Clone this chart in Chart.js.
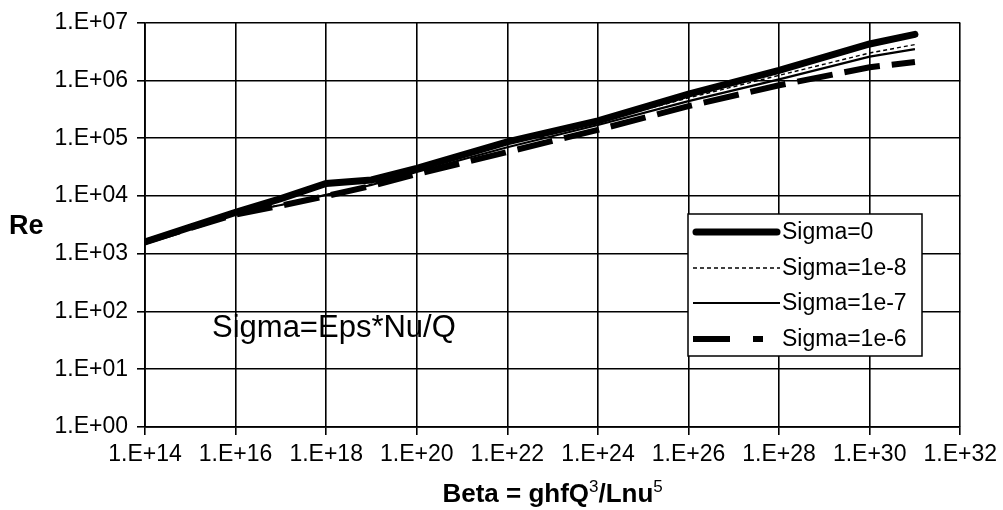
<!DOCTYPE html>
<html><head><meta charset="utf-8">
<script src="https://cdn.jsdelivr.net/npm/chart.js@4"></script>
<style>html,body{margin:0;padding:0;background:#fff;}#wrap{width:1003px;height:510px;position:relative;}</style>
</head><body><div id="wrap"><canvas id="c" width="1003" height="510"></canvas></div>
<script>
// ---- data ----
const betaValues   = [1e14, 1e15, 1e16, 1e17, 1e18, 1e19, 1e20, 1e22, 1e24, 1e26, 1e28, 1e30, 1e31];
const reSigma0     = [1.6e3, 2.9e3, 5.2e3, 9.0e3, 1.65e4, 1.9e4, 3.0e4, 8.7e4, 2.0e5, 5.8e5, 1.5e6, 4.3e6, 6.3e6];
const reSigma1e8   = [1.6e3, 2.8e3, 4.9e3, 7.0e3, 1.05e4, 1.6e4, 2.8e4, 8.0e4, 1.9e5, 5.0e5, 1.23e6, 3.0e6, 4.2e6];
const reSigma1e7   = [1.6e3, 2.8e3, 4.9e3, 7.0e3, 1.05e4, 1.55e4, 2.6e4, 7.0e4, 1.7e5, 4.4e5, 1.05e6, 2.6e6, 3.5e6];
const reSigma1e6   = [1.6e3, 2.8e3, 4.8e3, 6.8e3, 1.0e4, 1.5e4, 2.4e4, 5.8e4, 1.4e5, 3.6e5, 8.3e5, 1.7e6, 2.1e6];
const seriesNames  = ['Sigma=0', 'Sigma=1e-8', 'Sigma=1e-7', 'Sigma=1e-6'];
const xTickValues  = [1e14, 1e16, 1e18, 1e20, 1e22, 1e24, 1e26, 1e28, 1e30, 1e32];
const yTickValues  = [1e0, 1e1, 1e2, 1e3, 1e4, 1e5, 1e6, 1e7];
const yAxisTitle   = 'Re';
const noteText     = 'Sigma=Eps*Nu/Q';

const FONT = '"Liberation Sans", Arial, sans-serif';
const fmt = v => { const e = Math.round(Math.log10(v)); return '1.E' + (e < 0 ? '-' : '+') + String(Math.abs(e)).padStart(2, '0'); };
const pts = arr => betaValues.map((b, i) => ({x: b, y: arr[i]}));

const styles = [
  {borderWidth: 7, borderDash: [], legendDash: []},
  {borderWidth: 1.4, borderDash: [4, 3], legendDash: [4, 3]},
  {borderWidth: 2.2, borderDash: [], legendDash: []},
  {borderWidth: 6, borderDash: [36, 12], legendDash: [37, 23, 10, 100]}
];
const seriesData = [reSigma0, reSigma1e8, reSigma1e7, reSigma1e6];

const datasets = seriesNames.map((n, i) => ({
  label: n, data: pts(seriesData[i]), borderColor: '#000', backgroundColor: '#000',
  borderWidth: styles[i].borderWidth, borderDash: styles[i].borderDash,
  borderCapStyle: i === 0 ? 'round' : 'butt', pointRadius: 0, tension: 0, fill: false
}));

const extras = {
  id: 'extras',
  afterDraw(chart) {
    const ctx = chart.ctx;
    ctx.save();
    ctx.fillStyle = '#000'; ctx.strokeStyle = '#000';
    // y axis title
    ctx.font = 'bold 27px ' + FONT; ctx.textAlign = 'left'; ctx.textBaseline = 'alphabetic';
    ctx.fillText(yAxisTitle, 9, 234);
    // note
    ctx.font = '31px ' + FONT;
    ctx.fillText(noteText, 212, 337);
    // x axis title with superscripts
    const parts = [['Beta = ghfQ', false], ['3', true], ['/Lnu', false], ['5', true]];
    const big = 'bold 26px ' + FONT, small = '17px ' + FONT;
    let w = 0;
    parts.forEach(p => { ctx.font = p[1] ? small : big; w += ctx.measureText(p[0]).width; });
    let x = (chart.chartArea.left + chart.chartArea.right) / 2 - w / 2;
    const base = 502;
    parts.forEach(p => { ctx.font = p[1] ? small : big; ctx.fillText(p[0], x, p[1] ? base - 10 : base); x += ctx.measureText(p[0]).width; });
    // legend
    const lx = 688, ly = 214, lw = 234, lh = 142;
    ctx.fillStyle = '#fff'; ctx.fillRect(lx, ly, lw, lh);
    ctx.lineWidth = 1.5; ctx.strokeRect(lx, ly, lw, lh);
    const rows = [232, 268, 303, 339];
    chart.data.datasets.forEach((ds, i) => {
      ctx.save();
      ctx.beginPath();
      ctx.rect(lx + 2, ly + 2, 780 - lx, lh - 4); ctx.clip();
      ctx.beginPath();
      ctx.lineWidth = ds.borderWidth; ctx.setLineDash(styles[i].legendDash);
      ctx.lineCap = ds.borderCapStyle;
      ctx.moveTo(i === 0 ? 696 : 693, rows[i]); ctx.lineTo(i === 0 ? 777 : 780, rows[i]); ctx.stroke();
      ctx.restore();
      ctx.fillStyle = '#000'; ctx.font = '23px ' + FONT; ctx.textBaseline = 'middle';
      ctx.fillText(ds.label, 782, rows[i] + 1);
    });
    ctx.restore();
  }
};

new Chart(document.getElementById('c'), {
  type: 'line',
  data: {datasets},
  options: {
    responsive: false, animation: false,
    layout: {padding: {top: 20, right: 40, left: 0, bottom: 0}},
    plugins: {legend: {display: false}, tooltip: {enabled: false}},
    scales: {
      x: {
        type: 'logarithmic', position: 'bottom', min: 1e14, max: 1e32,
        afterBuildTicks: s => { s.ticks = xTickValues.map(v => ({value: v})); },
        afterFit: s => { s.height = 83; },
        ticks: {callback: v => fmt(v), color: '#000', font: {family: FONT, size: 23}, maxRotation: 0, autoSkip: false, padding: 6},
        grid: {color: '#000', lineWidth: 1.6, tickLength: 8, drawTicks: true},
        border: {color: '#000', width: 1.8}
      },
      y: {
        type: 'logarithmic', position: 'left', min: 1, max: 1e7,
        afterBuildTicks: s => { s.ticks = yTickValues.map(v => ({value: v})); },
        afterFit: s => { s.width = 145; },
        ticks: {callback: v => fmt(v), color: '#000', font: {family: FONT, size: 23}, padding: 9},
        grid: {color: '#000', lineWidth: 1.6, tickLength: 8, drawTicks: true},
        border: {color: '#000', width: 1.8}
      }
    }
  },
  plugins: [extras]
});
</script></body></html>
